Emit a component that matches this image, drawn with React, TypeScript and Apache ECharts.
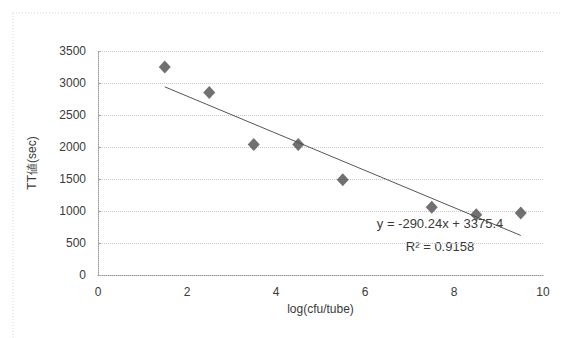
import React, { useEffect, useRef } from "react";
import * as echarts from "echarts";

const xValues = [1.5, 2.5, 3.5, 4.5, 5.5, 7.5, 8.5, 9.5];
const yValues = [3250, 2850, 2040, 2040, 1490, 1060, 940, 970];
const slope = -290.24;
const intercept = 3375.4;
const trendXRange = [1.5, 9.5];
const equationText = "y = -290.24x + 3375.4";
const r2Text = "R² = 0.9158";

export default function App() {
  const ref = useRef<HTMLDivElement>(null);
  useEffect(() => {
    if (!ref.current) return;
    const chart = echarts.init(ref.current, undefined, { renderer: "svg" });
    const points = xValues.map((x, i) => [x, yValues[i]]);
    const trend = trendXRange.map((x) => [x, slope * x + intercept]);
    const font = "Liberation Sans, Arial, sans-serif";
    chart.setOption({
      animation: false,
      backgroundColor: "#ffffff",
      grid: { left: 98, right: 19, top: 51, bottom: 63, containLabel: false },
      xAxis: {
        type: "value",
        min: 0,
        max: 10,
        interval: 2,
        name: "log(cfu/tube)",
        nameLocation: "middle",
        nameGap: 28,
        nameTextStyle: { color: "#3a3a3a", fontSize: 12, fontFamily: font },
        axisLine: { show: true, lineStyle: { color: "#999", type: "dotted", width: 1 } },
        axisTick: { show: false },
        axisLabel: { color: "#3a3a3a", fontSize: 12, fontFamily: font, margin: 11 },
        splitLine: { show: false },
      },
      yAxis: {
        type: "value",
        min: 0,
        max: 3500,
        interval: 500,
        name: "TT値(sec)",
        nameLocation: "middle",
        nameGap: 60,
        nameTextStyle: { color: "#3a3a3a", fontSize: 12, fontFamily: font },
        axisLine: { show: true, lineStyle: { color: "#999", type: "dotted", width: 1 } },
        axisTick: { show: true, inside: true, length: 3, lineStyle: { color: "#aaa" } },
        axisLabel: {
          color: "#3a3a3a",
          fontSize: 12,
          fontFamily: font,
          margin: 12,
          formatter: (v: number) => String(v),
        },
        splitLine: { show: true, lineStyle: { color: "#c8c8c8", type: "dotted", width: 1 } },
      },
      series: [
        {
          type: "line",
          data: trend,
          symbol: "none",
          lineStyle: { color: "#555", width: 1 },
          silent: true,
          z: 2,
        },
        {
          type: "scatter",
          data: points,
          symbol: "diamond",
          symbolSize: [12, 13],
          itemStyle: { color: "#4e4e4e" },
          z: 3,
        },
      ],
      graphic: [
        {
          type: "line",
          shape: { x1: 13, y1: 13, x2: 562, y2: 13 },
          style: { stroke: "#d8d8d8", lineDash: [1, 2], lineWidth: 1 },
        },
        {
          type: "line",
          shape: { x1: 13, y1: 13, x2: 13, y2: 338 },
          style: { stroke: "#d8d8d8", lineDash: [1, 2], lineWidth: 1 },
        },
        {
          type: "text",
          x: 440,
          y: 223,
          style: {
            text: equationText,
            fill: "#3a3a3a",
            font: `13px ${font}`,
            textAlign: "center",
            textVerticalAlign: "middle",
          },
        },
        {
          type: "text",
          x: 440,
          y: 246,
          style: {
            text: r2Text,
            fill: "#3a3a3a",
            font: `13px ${font}`,
            textAlign: "center",
            textVerticalAlign: "middle",
          },
        },
      ],
    });
    return () => chart.dispose();
  }, []);
  return (
    <div
      ref={ref}
      style={{ position: "absolute", left: 0, top: 0, width: 562, height: 338 }}
    />
  );
}
